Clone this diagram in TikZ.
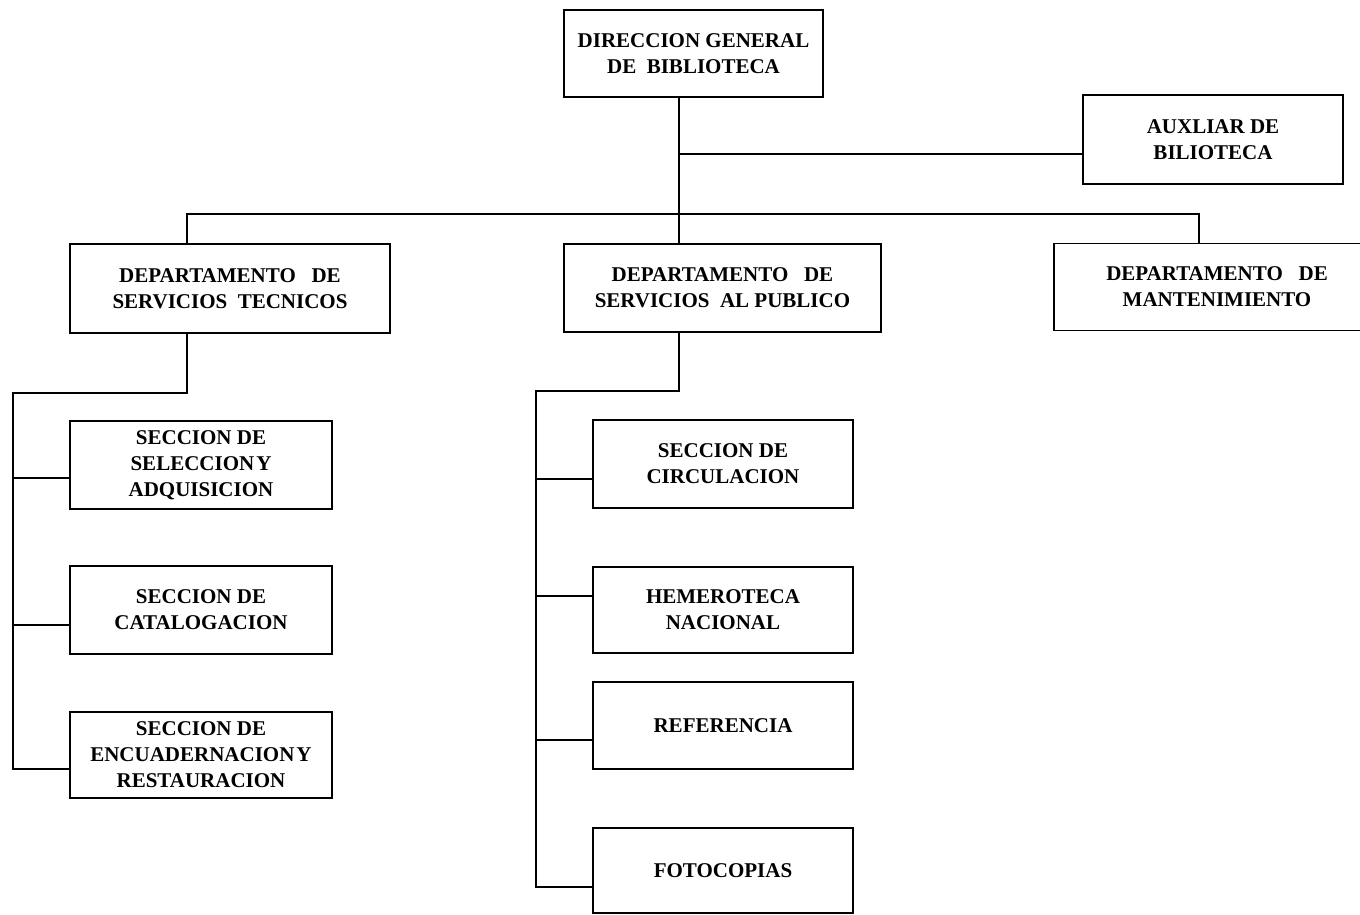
\documentclass[tikz,border=0pt]{standalone}
\usepackage{fontspec}
\setmainfont{Liberation Serif}

\begin{document}
\begin{tikzpicture}[x=1pt,y=-1pt]
\tikzset{box/.style = {draw, line width=1.6pt, align=center, inner sep=0pt, font=\bfseries\fontsize{21}{26}\selectfont}}
\tikzset{edge/.style = {line width=1.6pt}}

\useasboundingbox (0,0) rectangle (1360,914);

% direccion y auxiliar
\node[box, minimum width=259, minimum height=87] (dir) at (693.5,53.5) {DIRECCION GENERAL\\DE\ \ BIBLIOTECA};
\node[box, minimum width=260, minimum height=89] (aux) at (1213,139.5) {AUXLIAR DE\\BILIOTECA};

% departamentos
\node[box, minimum width=320, minimum height=89] (tec) at (230,288.5) {DEPARTAMENTO\ \ \ DE\\SERVICIOS\ \ TECNICOS};
\node[box, minimum width=317, minimum height=88] (pub) at (722.5,288) {DEPARTAMENTO\ \ \ DE\\SERVICIOS\ \ AL PUBLICO};
\node[box, minimum width=326, minimum height=87] (mant) at (1217,287) {DEPARTAMENTO\ \ \ DE\\MANTENIMIENTO};

% secciones
\node[box, minimum width=262, minimum height=88] (sel) at (201,465) {SECCION DE\\SELECCION\hspace{2pt}Y\\ADQUISICION};
\node[box, minimum width=262, minimum height=88] (cat) at (201,610) {SECCION DE\\CATALOGACION};
\node[box, minimum width=262, minimum height=86] (enc) at (201,755) {SECCION DE\\ENCUADERNACION\hspace{2pt}Y\\RESTAURACION};

\node[box, minimum width=260, minimum height=88] (circ) at (723,464) {SECCION DE\\CIRCULACION};
\node[box, minimum width=260, minimum height=86] (hem) at (723,610) {HEMEROTECA\\NACIONAL};
\node[box, minimum width=260, minimum height=87] (ref) at (723,725.5) {REFERENCIA};
\node[box, minimum width=260, minimum height=85] (foto) at (723,870.5) {FOTOCOPIAS};

% puntos de union
\coordinate (top) at (679,214);
\coordinate (auxj) at (679,154);
\coordinate (tecup) at (187,214);
\coordinate (mantup) at (1199,214);
\coordinate (tecdown) at (187,393);
\coordinate (tecbus) at (13,393);
\coordinate (selj) at (13,478);
\coordinate (catj) at (13,625);
\coordinate (encj) at (13,769);
\coordinate (pubdown) at (679,391);
\coordinate (pubbus) at (536,391);
\coordinate (circj) at (536,479);
\coordinate (hemj) at (536,596);
\coordinate (refj) at (536,740);
\coordinate (fotoj) at (536,887);

\draw[edge] (dir.south -| top) -- (top |- pub.north);
\draw[edge] (auxj) -- (auxj -| aux.west);
\draw[edge] (tecup |- tec.north) -- (tecup) -- (mantup) -- (mantup |- mant.north);

\draw[edge] (tecdown |- tec.south) -- (tecdown) -- (tecbus) -- (encj) -- (encj -| enc.west);
\draw[edge] (selj) -- (selj -| sel.west);
\draw[edge] (catj) -- (catj -| cat.west);

\draw[edge] (pubdown |- pub.south) -- (pubdown) -- (pubbus) -- (fotoj) -- (fotoj -| foto.west);
\draw[edge] (circj) -- (circj -| circ.west);
\draw[edge] (hemj) -- (hemj -| hem.west);
\draw[edge] (refj) -- (refj -| ref.west);

\end{tikzpicture}
\end{document}
